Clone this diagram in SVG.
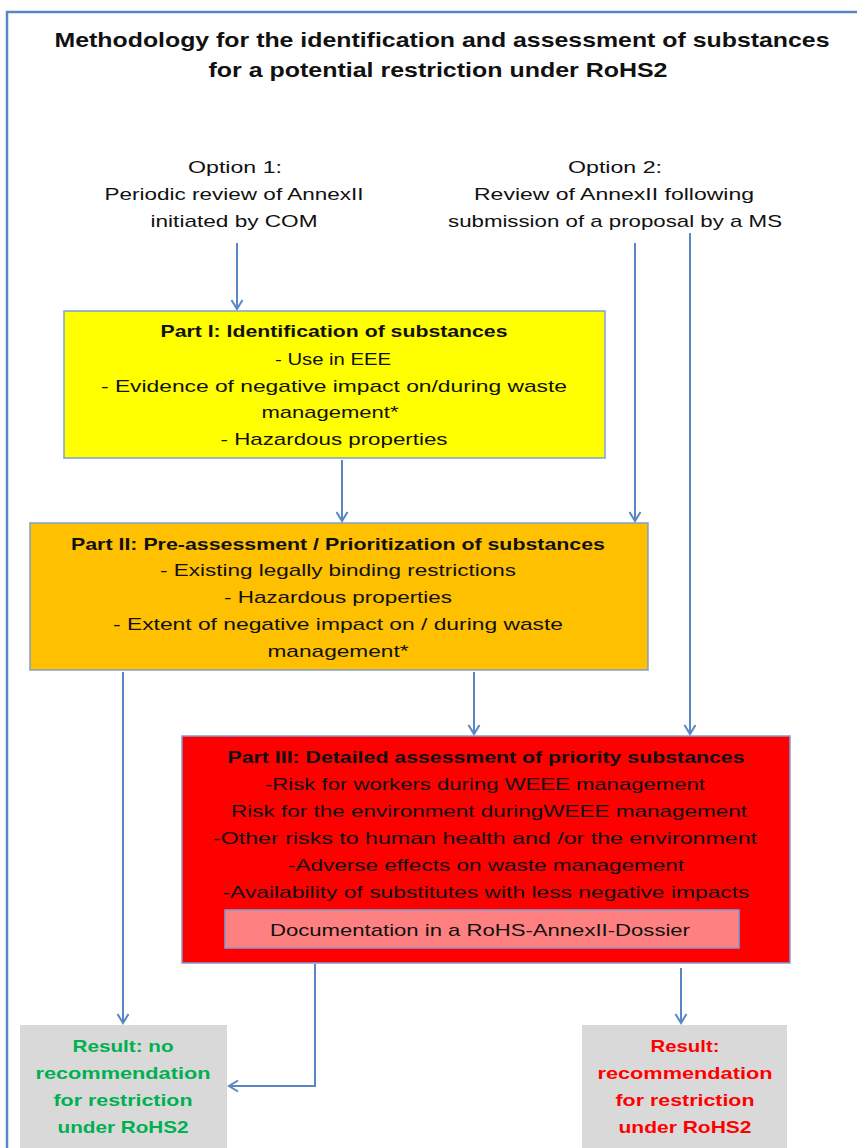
<svg xmlns="http://www.w3.org/2000/svg" width="857" height="1148" viewBox="0 0 857 1148">
<defs>
<marker id="arr" viewBox="-11 -7 13 14" refX="0" refY="0" markerWidth="13" markerHeight="14" markerUnits="userSpaceOnUse" orient="auto">
<path d="M-9,-5.5 L0,0 L-9,5.5" fill="none" stroke="#5A86C4" stroke-width="2"/>
</marker>
<style>
text{font-family:"Liberation Sans",Arial,sans-serif;font-size:17px;fill:#111;text-anchor:middle}
.t{font-size:21px;font-weight:bold}
.b{font-weight:bold}
.g{fill:#00B050;font-weight:bold}
.r{fill:#FF0000;font-weight:bold}
.box{stroke:#7F9ED2;stroke-width:1.5}
.c{fill:none;stroke:#5A86C4;stroke-width:2;marker-end:url(#arr)}
.c0{fill:none;stroke:#5A86C4;stroke-width:2}
</style>
</defs>
<rect x="0" y="0" width="857" height="1148" fill="#ffffff"/>
<rect id="frame" x="7" y="12" width="900" height="1200" fill="none" stroke="#5A86C4" stroke-width="2.5"/>
<g id="title">
<text class="t" x="442" y="47" textLength="775" lengthAdjust="spacingAndGlyphs">Methodology for the identification and assessment of substances</text>
<text class="t" x="438" y="77" textLength="459" lengthAdjust="spacingAndGlyphs">for a potential restriction under RoHS2</text>
</g>
<g id="option1">
<text x="235" y="173" textLength="94" lengthAdjust="spacingAndGlyphs">Option 1:</text>
<text x="234" y="200" textLength="259" lengthAdjust="spacingAndGlyphs">Periodic review of AnnexII</text>
<text x="234" y="227" textLength="167" lengthAdjust="spacingAndGlyphs">initiated by COM</text>
</g>
<g id="option2">
<text x="615" y="173" textLength="94" lengthAdjust="spacingAndGlyphs">Option 2:</text>
<text x="614" y="200" textLength="280" lengthAdjust="spacingAndGlyphs">Review of AnnexII following</text>
<text x="615" y="227" textLength="334" lengthAdjust="spacingAndGlyphs">submission of a proposal by a MS</text>
</g>
<g id="part1">
<rect class="box" x="64" y="311" width="541" height="147" fill="#FFFF00"/>
<text class="b" x="334" y="337" textLength="347" lengthAdjust="spacingAndGlyphs">Part I: Identification of substances</text>
<text x="333" y="365" textLength="116" lengthAdjust="spacingAndGlyphs">- Use in EEE</text>
<text x="334" y="392" textLength="466" lengthAdjust="spacingAndGlyphs">- Evidence of negative impact on/during waste</text>
<text x="330" y="418" textLength="137" lengthAdjust="spacingAndGlyphs">management*</text>
<text x="334" y="445" textLength="227" lengthAdjust="spacingAndGlyphs">- Hazardous properties</text>
</g>
<g id="part2">
<rect class="box" x="30" y="523" width="618" height="147" fill="#FFC000"/>
<text class="b" x="338" y="550" textLength="534" lengthAdjust="spacingAndGlyphs">Part II: Pre-assessment / Prioritization of substances</text>
<text x="338" y="576" textLength="356" lengthAdjust="spacingAndGlyphs">- Existing legally binding restrictions</text>
<text x="338" y="603" textLength="228" lengthAdjust="spacingAndGlyphs">- Hazardous properties</text>
<text x="338" y="630" textLength="450" lengthAdjust="spacingAndGlyphs">- Extent of negative impact on / during waste</text>
<text x="338" y="657" textLength="141" lengthAdjust="spacingAndGlyphs">management*</text>
</g>
<g id="part3">
<rect class="box" x="182" y="736" width="608" height="227" fill="#FF0000"/>
<text class="b" x="486" y="763" textLength="517" lengthAdjust="spacingAndGlyphs">Part III: Detailed assessment of priority substances</text>
<text x="485" y="790" textLength="440" lengthAdjust="spacingAndGlyphs">-Risk for workers during WEEE management</text>
<text x="489" y="817" textLength="516" lengthAdjust="spacingAndGlyphs">Risk for the environment duringWEEE management</text>
<text x="485" y="844" textLength="544" lengthAdjust="spacingAndGlyphs">-Other risks to human health and /or the environment</text>
<text x="486" y="871" textLength="396" lengthAdjust="spacingAndGlyphs">-Adverse effects on waste management</text>
<text x="486" y="898" textLength="527" lengthAdjust="spacingAndGlyphs">-Availability of substitutes with less negative impacts</text>
</g>
<g id="dossier">
<rect class="box" x="225" y="910" width="514" height="38" fill="#FF8080"/>
<text x="480" y="936" textLength="420" lengthAdjust="spacingAndGlyphs">Documentation in a RoHS-AnnexII-Dossier</text>
</g>
<g id="result-no">
<rect x="20" y="1025" width="207" height="140" fill="#D9D9D9"/>
<text class="g" x="123" y="1052" textLength="101" lengthAdjust="spacingAndGlyphs">Result: no</text>
<text class="g" x="123" y="1079" textLength="175" lengthAdjust="spacingAndGlyphs">recommendation</text>
<text class="g" x="123" y="1106" textLength="139" lengthAdjust="spacingAndGlyphs">for restriction</text>
<text class="g" x="123" y="1133" textLength="131" lengthAdjust="spacingAndGlyphs">under RoHS2</text>
</g>
<g id="result-yes">
<rect x="582" y="1025" width="205" height="140" fill="#D9D9D9"/>
<text class="r" x="685" y="1052" textLength="69" lengthAdjust="spacingAndGlyphs">Result:</text>
<text class="r" x="685" y="1079" textLength="175" lengthAdjust="spacingAndGlyphs">recommendation</text>
<text class="r" x="685" y="1106" textLength="139" lengthAdjust="spacingAndGlyphs">for restriction</text>
<text class="r" x="685" y="1133" textLength="133" lengthAdjust="spacingAndGlyphs">under RoHS2</text>
</g>
<g id="connectors">
<path class="c" d="M237,243 L237,309"/>
<path class="c" d="M635,243 L635,521"/>
<path class="c" d="M690,233 L690,734"/>
<path class="c" d="M342,460 L342,521"/>
<path class="c" d="M123,672 L123,1023"/>
<path class="c" d="M474,672 L474,734"/>
<path class="c" d="M315,964 L315,1086 L229,1086"/>
<path class="c" d="M681,968 L681,1023"/>
</g>
</svg>
